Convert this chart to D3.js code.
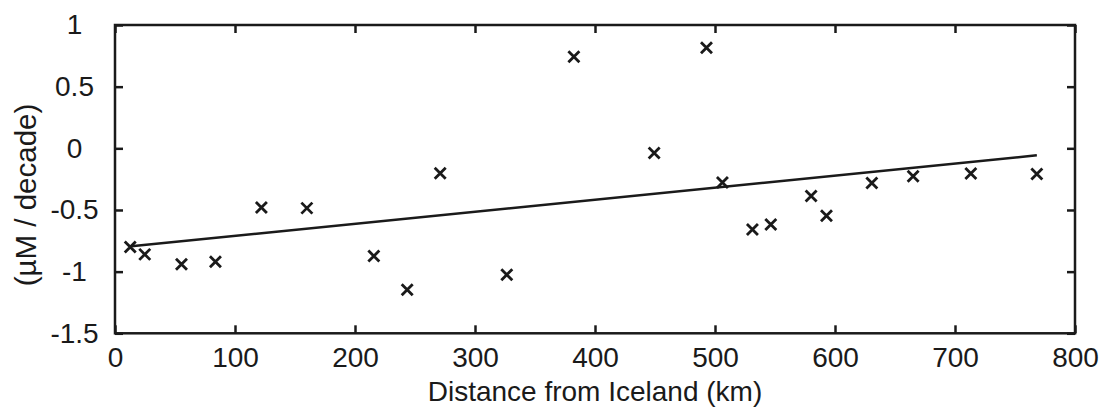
<!DOCTYPE html>
<html>
<head>
	<script src="https://d3js.org/d3.v7.min.js"></script>
	<style>
		body { margin: 0; background: #fff; }
		text { font-family: "Liberation Sans", Arial, sans-serif; fill: #1a1a1a; }
	</style>
</head>
<body>
	<div class="chart"></div>
	<script>
		// distance from Iceland (km) and trend (uM / decade)
		var distance = [12.7, 24.8, 55.4, 83.7, 122, 159.9, 215.7, 243.5, 271, 326.5, 382.4,
			449.3, 492.9, 506.2, 531.2, 546.5, 580.1, 592.9, 630.7, 665.1, 713.2, 768.2];
		var trend = [-0.80, -0.86, -0.94, -0.92, -0.48, -0.485, -0.874, -1.146, -0.202, -1.025, 0.742,
			-0.038, 0.815, -0.278, -0.658, -0.618, -0.386, -0.547, -0.281, -0.227, -0.205, -0.208];
		// fitted line end points
		var fitX = [13.5, 768.2];
		var fitY = [-0.795, -0.057];
		var xTicks = [0, 100, 200, 300, 400, 500, 600, 700, 800];
		var yTicks = [-1.5, -1, -0.5, 0, 0.5, 1];

		var w = 1103, h = 408;
		var margin = {top: 25, right: 28, bottom: 74.7, left: 115};
		var iw = w - margin.left - margin.right, ih = h - margin.top - margin.bottom;

		var svg = d3.select(".chart").append("svg")
			.attr("width", w)
			.attr("height", h);
		var g = svg.append("g")
			.attr("transform", "translate(" + margin.left + "," + margin.top + ")");

		var x = d3.scaleLinear().domain([0, 800]).range([0, iw]);
		var y = d3.scaleLinear().domain([-1.5, 1]).range([ih, 0]);

		var col = "#1a1a1a";
		var fmt = function(d) { return String(d); };

		var xb = g.append("g").attr("transform", "translate(0," + ih + ")")
			.call(d3.axisBottom(x).tickValues(xTicks).tickFormat(fmt).tickSizeInner(-8).tickSizeOuter(0).tickPadding(14));
		var xt = g.append("g")
			.call(d3.axisTop(x).tickValues(xTicks).tickFormat("").tickSizeInner(-8).tickSizeOuter(0));
		var yl = g.append("g")
			.call(d3.axisLeft(y).tickValues(yTicks).tickFormat(fmt).tickSizeInner(-8).tickSizeOuter(0));
		var yr = g.append("g").attr("transform", "translate(" + iw + ",0)")
			.call(d3.axisRight(y).tickValues(yTicks).tickFormat("").tickSizeInner(-8).tickSizeOuter(0));

		[xb, xt, yl, yr].forEach(function(a) {
			a.select(".domain").remove();
			a.selectAll(".tick line").attr("stroke", col).attr("stroke-width", 2.5);
			a.selectAll("text").attr("fill", "#1a1a1a").style("font-size", "28px")
				.style("font-family", "'Liberation Sans', Arial, sans-serif");
		});
		yl.selectAll("text").attr("text-anchor", "middle").attr("x", -40.5);

		g.append("rect")
			.attr("width", iw).attr("height", ih)
			.attr("fill", "none").attr("stroke", col).attr("stroke-width", 2.5);

		// fit line
		g.append("line")
			.attr("x1", x(fitX[0])).attr("y1", y(fitY[0]))
			.attr("x2", x(fitX[1])).attr("y2", y(fitY[1]))
			.attr("stroke", col).attr("stroke-width", 2.5);

		// x markers
		var s = 5.5;
		g.append("g").selectAll("path")
			.data(distance.map(function(d, i) { return [d, trend[i]]; }))
			.enter()
			.append("path")
			.attr("d", function(d) {
				var px = x(d[0]), py = y(d[1]);
				return "M" + (px - s) + "," + (py - s) + "L" + (px + s) + "," + (py + s) +
					"M" + (px - s) + "," + (py + s) + "L" + (px + s) + "," + (py - s);
			})
			.attr("stroke", col).attr("stroke-width", 2.8).attr("fill", "none");

		svg.append("text")
			.attr("x", margin.left + iw / 2).attr("y", 401)
			.attr("text-anchor", "middle")
			.style("font-size", "28px")
			.text("Distance from Iceland (km)");

		svg.append("text")
			.attr("transform", "translate(35.5,195) rotate(-90)")
			.attr("text-anchor", "middle")
			.style("font-size", "29.5px")
			.text("(µM / decade)");
	</script>
</body>
</html>
